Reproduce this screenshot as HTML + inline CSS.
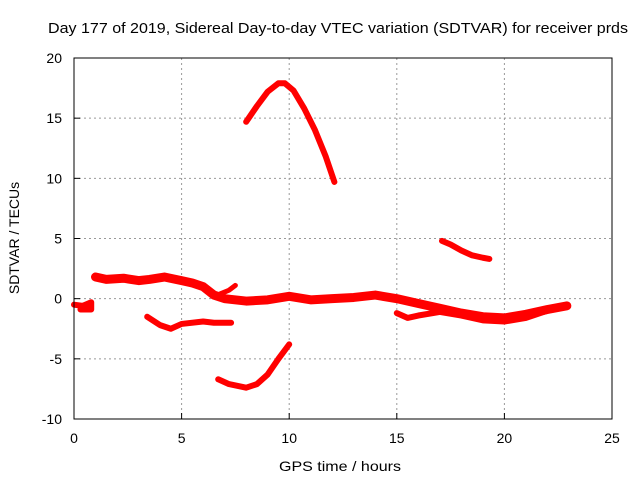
<!DOCTYPE html>
<html><head><meta charset="utf-8"><style>
body{margin:0;background:#fff}
svg text{font-family:"Liberation Sans",sans-serif;font-size:14px;fill:#000}
</style></head><body>
<svg id="c" width="640" height="480">
<text x="338" y="33" text-anchor="middle" textLength="580" lengthAdjust="spacingAndGlyphs" style="font-size:15px">Day 177 of 2019, Sidereal Day-to-day VTEC variation (SDTVAR) for receiver prds</text>
<text x="340" y="471" text-anchor="middle" textLength="122" lengthAdjust="spacingAndGlyphs">GPS time / hours</text>
<text transform="translate(19,238) rotate(-90)" text-anchor="middle">SDTVAR / TECUs</text>
<g id="grid"></g><g id="ticks"></g><g id="series"></g>
<rect x="74" y="58" width="538" height="361" fill="none" stroke="#000" stroke-width="1"/>
</svg>
<script>
const xTicks=[0,5,10,15,20,25];
const yTicks=[-10,-5,0,5,10,15,20];
const segArc=[[8.0,14.7],[8.5,16],[9,17.2],[9.5,17.9],[9.8,17.9],[10.2,17.3],[10.7,15.8],[11.2,14],[11.7,11.8],[12.1,9.7]];
const segHigh=[[17.1,4.8],[17.5,4.5],[18,4.0],[18.5,3.6],[19,3.4],[19.3,3.3]];
const segBand=[[1.0,1.8],[1.5,1.6],[2.3,1.7],[3,1.5],[3.5,1.6],[4.2,1.8],[5,1.5],[5.5,1.3],[6,1],[6.5,0.3],[7,0],[8,-0.2],[9,-0.1],[10,0.2],[11,-0.1],[12,0],[13,0.1],[14,0.3],[15,0],[16,-0.4],[17,-0.8],[18,-1.2],[19,-1.5],[20,-1.6],[21,-1.3],[22,-0.9],[22.9,-0.6]];
const segBand2=[[15,-1.2],[15.5,-1.6],[16,-1.4],[17,-1.1],[18,-1.4],[19,-1.8],[20,-1.9],[21,-1.6],[22,-1.0]];
const segSpike=[[6.8,0.4],[7.2,0.7],[7.5,1.1]];
const segStart=[[0,-0.5],[0.4,-0.6],[0.8,-0.3],[0.8,-0.9],[0.3,-0.9]];
const segMid=[[3.4,-1.5],[4,-2.2],[4.5,-2.5],[5,-2.1],[6,-1.9],[6.5,-2],[7.3,-2]];
const segLow=[[6.7,-6.7],[7.2,-7.1],[8,-7.4],[8.5,-7.1],[9,-6.3],[9.5,-5],[10,-3.8]];
const X=v=>74+v*538/25, Y=v=>419-(v+10)*361/30;
const NS="http://www.w3.org/2000/svg";
const g=document.getElementById('grid'),t=document.getElementById('ticks'),s=document.getElementById('series');
function mk(tag,a,p){const e=document.createElementNS(NS,tag);for(const k in a)e.setAttribute(k,a[k]);p.appendChild(e);return e;}
xTicks.forEach(v=>{
 if(v>0&&v<25){const l=mk('line',{x1:X(v),x2:X(v),y1:58,y2:419,stroke:'#999','stroke-dasharray':'2,3'},g);
 
 }
 const tk=mk('line',{x1:X(v),x2:X(v),y1:419,y2:413,stroke:'#000'},t);
 
 
 const tx=mk('text',{x:X(v),y:443,'text-anchor':'middle'},t);tx.textContent=v;
 
 
});
yTicks.forEach(v=>{
 if(v>-10&&v<20){const l=mk('line',{x1:74,x2:612,y1:Y(v),y2:Y(v),stroke:'#999','stroke-dasharray':'2,3'},g);
 
 }
 const tk=mk('line',{x1:74,x2:80,y1:Y(v),y2:Y(v),stroke:'#000'},t);
 
 
 const tx=mk('text',{x:62,y:Y(v)+5,'text-anchor':'end'},t);tx.textContent=v;
 
 
});
[[segArc,6],[segHigh,6],[segBand,9],[segBand2,6],[segSpike,5],[segStart,6],[segMid,6],[segLow,6]].forEach(([d,w])=>{
 const p=mk('polyline',{points:d.map(q=>X(q[0])+','+Y(q[1])).join(' '),fill:'none',stroke:'#f00','stroke-width':w,'stroke-linejoin':'round','stroke-linecap':'round'},s);
 
 
});
</script>
</body></html>
